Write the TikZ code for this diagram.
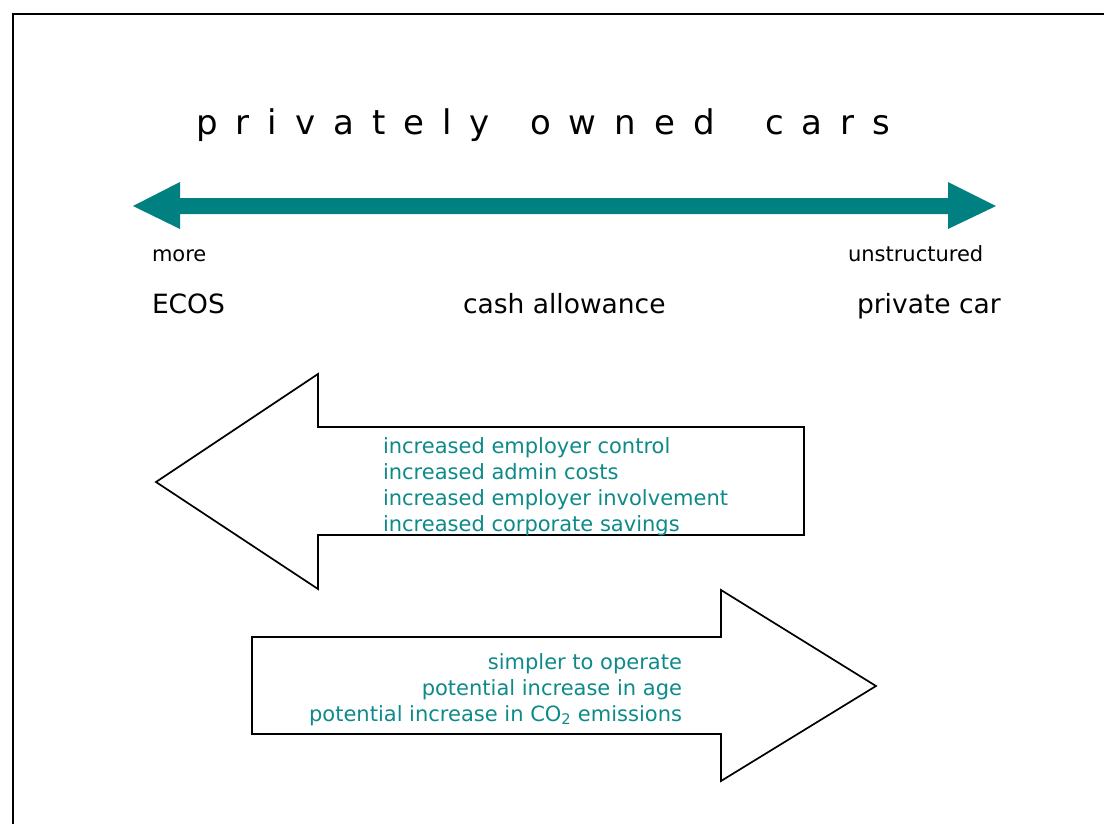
\documentclass[tikz,border=0pt]{standalone}
\usepackage{fontspec}
\setmainfont{DejaVu Sans}
\newfontfamily\titlefont[LetterSpace=53]{DejaVu Sans}
\definecolor{arrowteal}{RGB}{0,128,128}
\definecolor{textteal}{RGB}{14,138,138}
\begin{document}
\begin{tikzpicture}[x=1pt,y=-1pt,
  txt/.style={inner sep=0pt,outer sep=0pt},
  titleword/.style={txt,anchor=base west,font=\titlefont\fontsize{34}{40}\selectfont},
  small/.style={txt,font=\fontsize{21}{25}\selectfont,text=black},
  label/.style={txt,font=\fontsize{26.5}{30}\selectfont,text=black},
  item/.style={txt,font=\fontsize{21}{25}\selectfont,text=textteal},
  blockarrow/.style={draw=black,line width=1.7pt,line join=miter,fill=white}]
\useasboundingbox (0,0) rectangle (1104,823);
\fill[white] (0,0) rectangle (1104,823);
% frame
\draw[line width=2.8pt] (13,840) -- (13,14) -- (1120,14);
% title, one word per node
\node[titleword] (t1) at (196,134) {privately};
\node[titleword] (t2) at (530,134) {owned};
\node[titleword] (t3) at (765,134) {cars};
% teal double-headed scale arrow
\fill[arrowteal] (133,206) -- (180,182) -- (180,198) -- (948,198) -- (948,182)
  -- (996,206) -- (948,229) -- (948,214) -- (180,214) -- (180,229) -- cycle;
\node[small,anchor=base west] (more) at (152,261) {more};
\node[small,anchor=base west] (unstr) at (848,261) {unstructured};
\node[label,anchor=base west] (ecos) at (152,313) {ECOS};
\node[label,anchor=base west] (cash) at (463,313) {cash allowance};
\node[label,anchor=base west] (priv) at (857,313) {private car};
% left block arrow
\draw[blockarrow] (156,482) -- (318,374) -- (318,427) -- (804,427) -- (804,535)
  -- (318,535) -- (318,589) -- cycle;
\node[item,anchor=base west] (l1) at (383,453) {increased employer control};
\node[item,anchor=base west] (l2) at (383,479) {increased admin costs};
\node[item,anchor=base west] (l3) at (383,505) {increased employer involvement};
\node[item,anchor=base west] (l4) at (383,531) {increased corporate savings};
% right block arrow
\draw[blockarrow] (252,637) -- (721,637) -- (721,590) -- (876,686) -- (721,781)
  -- (721,734) -- (252,734) -- cycle;
\node[item,anchor=base east] (r1) at (682,669) {simpler to operate};
\node[item,anchor=base east] (r2) at (682,695) {potential increase in age};
\node[item,anchor=base east] (r3) at (682,721) {potential increase in CO\textsubscript{2} emissions};
\end{tikzpicture}
\end{document}
